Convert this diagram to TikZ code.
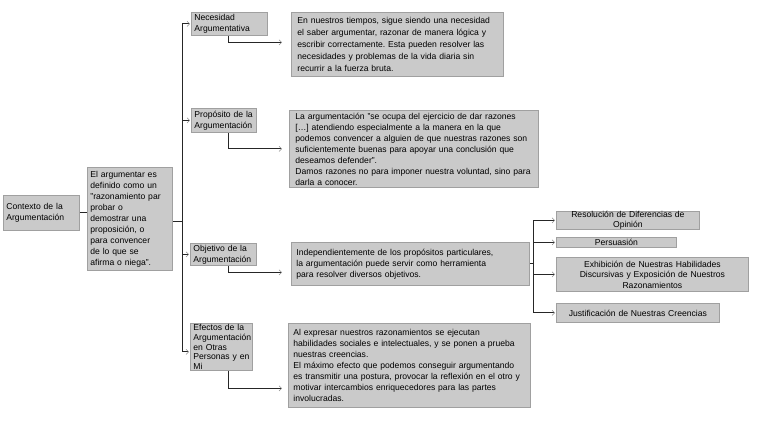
\documentclass[tikz,border=0pt]{standalone}
\usepackage{fontspec}
\setmainfont{Liberation Sans}
\usepackage{xcolor}
\usepackage{tikz}
\usetikzlibrary{positioning, calc, arrows.meta}
\frenchspacing
\definecolor{boxfill}{HTML}{CACACA}
\definecolor{boxline}{HTML}{A0A0A0}
\definecolor{tipgray}{HTML}{8C8C8C}
\tikzstyle{Box} = [
draw=boxline, fill=boxfill, line width=0.8pt,
anchor=north west, inner xsep=3pt, inner ysep=2pt,
align=left, text=black,
font=\fontsize{8.6}{11}\selectfont
]
\tikzstyle{Arrow} = [
line width=0.9pt, draw=black!85,
-{Straight Barb[length=2.5pt, width=5pt, line width=0.6pt, color=tipgray]},
shorten >= 1pt
]
\tikzstyle{Line} = [line width=0.9pt, draw=black!85]

\begin{document}
\begin{tikzpicture}[x=1pt, y=-1pt]
			\useasboundingbox (0,0) rectangle (768,433);
			% left column
			\node [Box, text width=70pt, minimum height=35pt] (1) at (3,195) {Contexto de la\\Argumentación};
			\node [Box, text width=79pt, minimum height=103pt] (2) at (87,167) {El argumentar es\\definido como un\\"razonamiento par\\probar o\\demostrar una\\proposición, o\\para convencer\\de lo que se\\afirma o niega".};
			
			% middle column
			\node [Box, text width=70pt, minimum height=23pt, inner ysep=1pt] (3) at (191,12) {Necesidad\\Argumentativa};
			\node [Box, text width=200pt, minimum height=64pt, inner xsep=6pt, font=\fontsize{8.6}{12}\selectfont] (4) at (291,12) {En nuestros tiempos, sigue siendo una necesidad\\el saber argumentar, razonar de manera lógica y\\escribir correctamente. Esta pueden resolver las\\necesidades y problemas de la vida diaria sin\\recurrir a la fuerza bruta.};
			\node [Box, text width=59pt, minimum height=24pt, inner ysep=1pt] (5) at (191,108) {Propósito de la\\Argumentación};
			\node [Box, text width=237pt, minimum height=77pt, inner xsep=6pt] (6) at (289,110) {La argumentación "se ocupa del ejercicio de dar razones\\{[}…{]} atendiendo especialmente a la manera en la que\\podemos convencer a alguien de que nuestras razones son\\suficientemente buenas para apoyar una conclusión que\\deseamos defender".\\Damos razones no para imponer nuestra voluntad, sino para\\darla a conocer.};
			\node [Box, text width=60pt, minimum height=22pt, inner ysep=1pt] (7) at (190,243) {Objetivo de la\\Argumentación};
			\node [Box, text width=228pt, minimum height=43pt, inner xsep=5pt] (8) at (291,242) {Independientemente de los propósitos particulares,\\la argumentación puede servir como herramienta\\para resolver diversos objetivos.};
			\node [Box, text width=56pt, minimum height=47pt, inner ysep=1pt, font=\fontsize{8.6}{9.6}\selectfont] (9) at (190,323) {Efectos de la\\Argumentación\\en Otras\\Personas y en\\Mi};
			\node [Box, text width=232pt, minimum height=84pt, inner xsep=5pt] (10) at (288,323) {Al expresar nuestros razonamientos se ejecutan\\habilidades sociales e intelectuales, y se ponen a prueba\\nuestras creencias.\\El máximo efecto que podemos conseguir argumentando\\es transmitir una postura, provocar la reflexión en el otro y\\motivar intercambios enriquecedores para las partes\\involucradas.};
			
			% right column
			\node [Box, align=center, text width=137pt, minimum height=18pt, inner ysep=0pt, font=\fontsize{8.6}{9.5}\selectfont] (11) at (556,211) {Resolución de Diferencias de\\Opinión};
			\node [Box, align=center, text width=114pt, minimum height=10pt, inner ysep=0pt] (12) at (556,237) {Persuasión};
			\node [Box, align=center, text width=186pt, minimum height=34pt, font=\fontsize{8.6}{10.5}\selectfont] (13) at (556,257) {Exhibición de Nuestras Habilidades\\Discursivas y Exposición de Nuestros\\Razonamientos};
			\node [Box, align=center, text width=157pt, minimum height=19pt] (14) at (556,303) {Justificación de Nuestras Creencias};
			
			\coordinate (t) at (182,221);
			\coordinate (s) at (228,0);
			\coordinate (r) at (533,263);
			
			\draw[Line] (1.east) -- (1.east -| 2.west);
			\draw[Line] (2.east |- t) -- (t);
			\draw[Arrow] (t) |- (3.west);
			\draw[Arrow] (t) |- (5.west);
			\draw[Arrow] (t) |- (7.west);
			\draw[Arrow] (t) |- ([yshift=-5pt]9.west);
			
			\draw[Arrow, shorten >= 9pt] (3.south -| s) |- ([yshift=2pt]4.west);
			\draw[Arrow, shorten >= 7pt] (5.south -| s) |- (6.west);
			\draw[Arrow, shorten >= 9pt] (7.south -| s) |- ([yshift=-8.5pt]8.west);
			\draw[Arrow, shorten >= 6pt] (9.south -| s) |- ([yshift=-23pt]10.west);
			
			\draw[Line] (8.east |- r) -- (r);
			\draw[Arrow] (r) |- (11.west);
			\draw[Arrow] (r) |- (12.west);
			\draw[Arrow] (r) |- (13.west);
			\draw[Arrow] (r) |- (14.west);
		\end{tikzpicture}
\end{document}
